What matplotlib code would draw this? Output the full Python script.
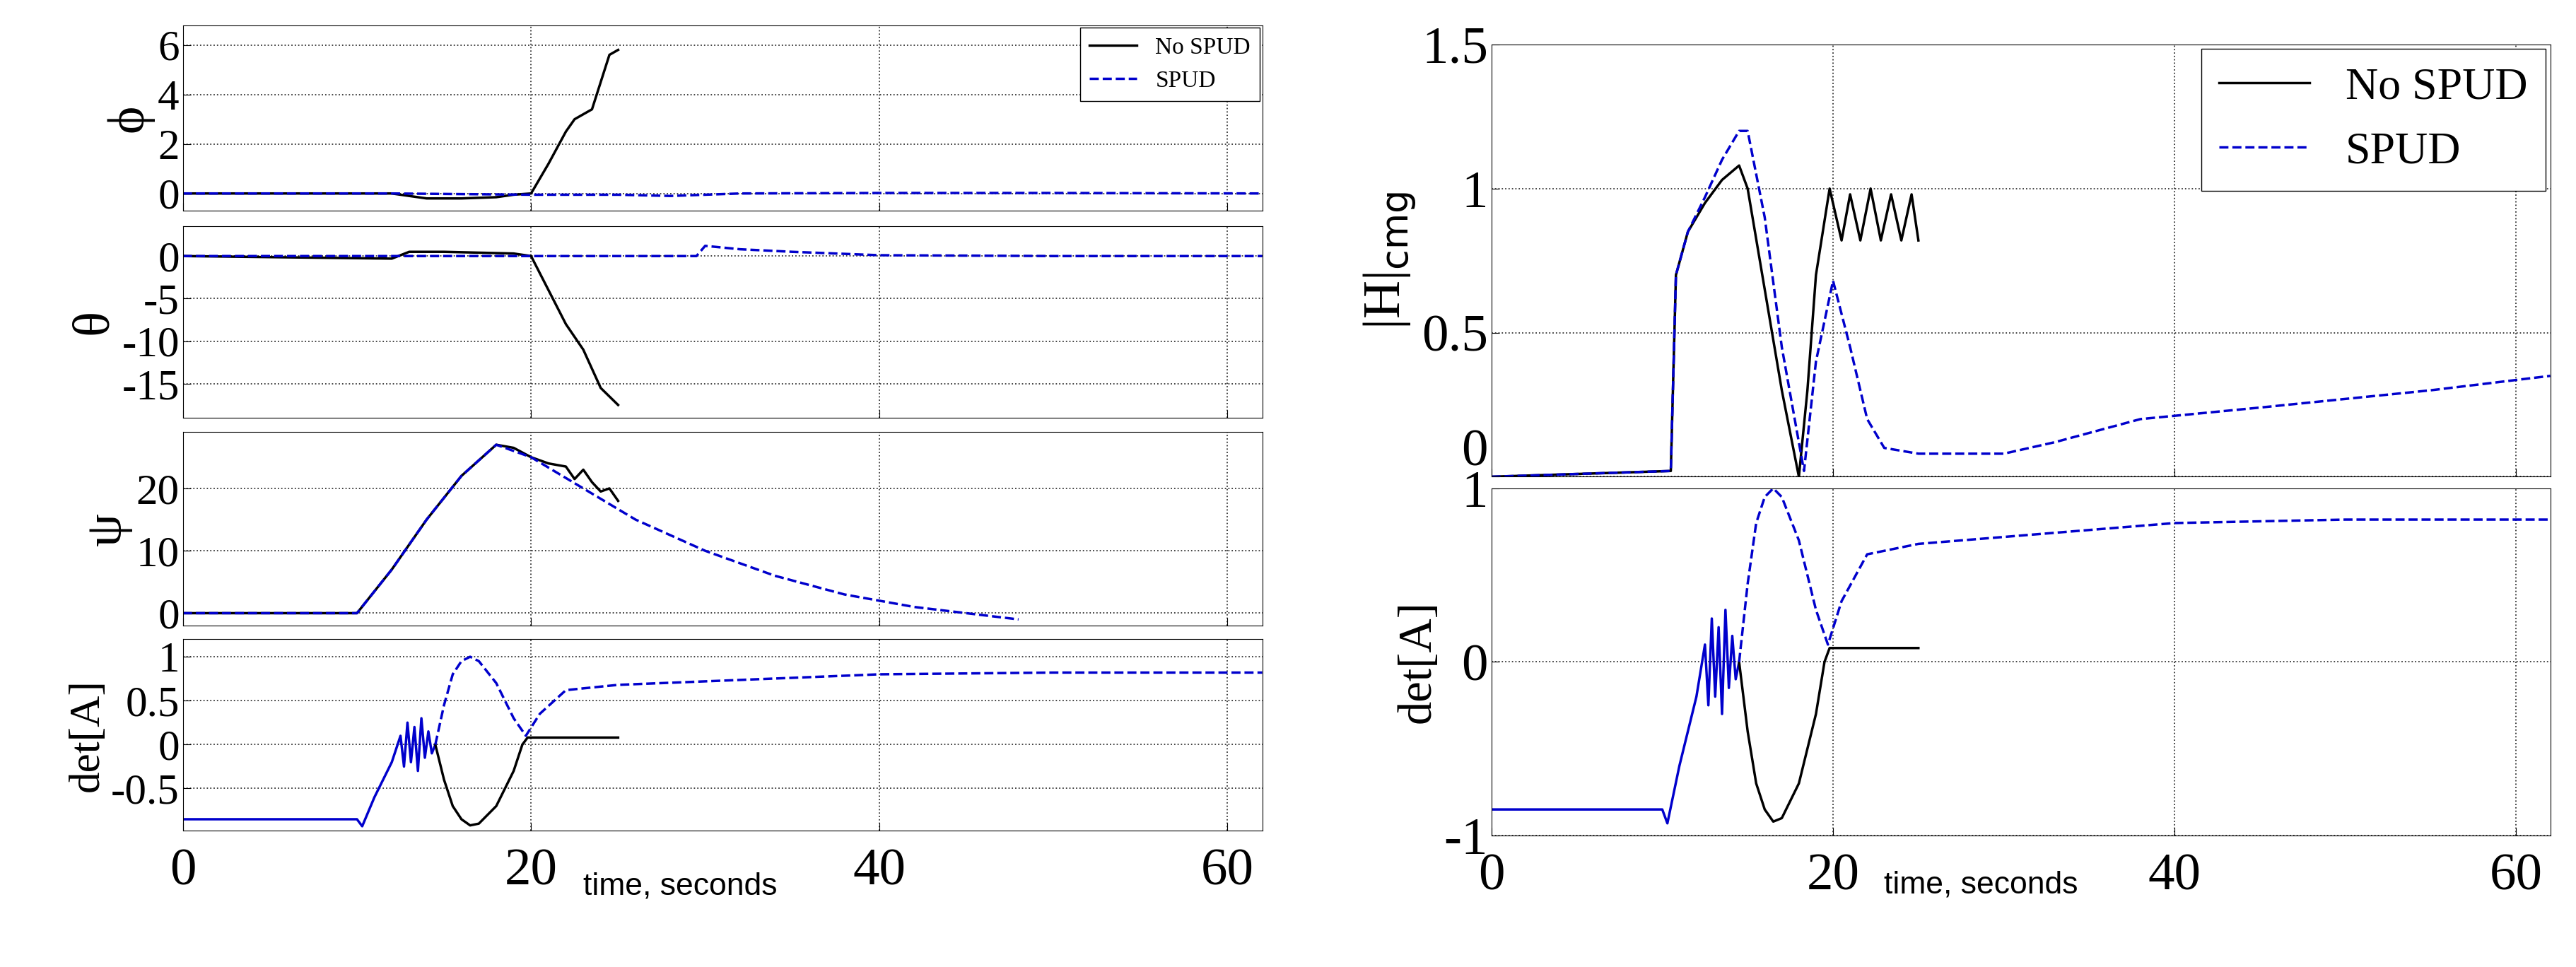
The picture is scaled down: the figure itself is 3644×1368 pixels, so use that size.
import matplotlib
matplotlib.use("Agg")
import matplotlib.pyplot as plt

plt.rcParams['font.family'] = 'Liberation Serif'
plt.rcParams['axes.unicode_minus'] = False

# ---- data ----
t_phi_n = [0, 12, 13, 14, 16, 18, 19, 20, 21, 22, 22.5, 23, 23.5, 24, 24.5, 25]
phi_n   = [0, 0, -0.1, -0.2, -0.2, -0.15, -0.05, 0, 1.2, 2.5, 3.0, 3.2, 3.4, 4.5, 5.6, 5.8]
t_phi_s = [0, 12, 20, 25, 28, 30, 32, 40, 50, 62]
phi_s   = [0, 0, -0.05, -0.05, -0.1, -0.05, 0, 0.02, 0.02, 0.0]

t_th_n = [0, 12, 13, 15, 19, 20, 21, 22, 23, 24, 25]
th_n   = [0, -0.3, 0.5, 0.5, 0.3, 0, -4, -8, -11, -15.5, -17.5]
t_th_s = [0, 12, 20, 29.5, 30, 32, 35, 40, 50, 62]
th_s   = [0, 0, 0, 0, 1.2, 0.8, 0.5, 0.1, 0, 0]

t_psi_n = [0, 10, 12, 14, 16, 18, 19, 20, 21, 22, 22.5, 23, 23.5, 24, 24.5, 25]
psi_n   = [0, 0, 7, 15, 22, 27, 26.5, 25, 24, 23.5, 21.5, 23, 21, 19.5, 20, 18]
t_psi_s = [0, 10, 12, 14, 16, 18, 20, 23, 26, 30, 34, 38, 42, 45, 48]
psi_s   = [0, 0, 7, 15, 22, 27, 25, 20, 15, 10, 6, 3, 1, 0, -1]

t_det_c = [0, 10, 10.3, 11, 12, 12.5, 12.7, 12.9, 13.1, 13.3, 13.5, 13.7, 13.9, 14.1, 14.3, 14.5]
det_c   = [-0.85, -0.85, -0.93, -0.6, -0.2, 0.1, -0.25, 0.25, -0.2, 0.2, -0.3, 0.3, -0.15, 0.15, -0.1, 0]
t_det_n = [14.5, 15, 15.5, 16, 16.5, 17, 18, 19, 19.5, 19.8, 25]
det_n   = [0, -0.4, -0.7, -0.85, -0.92, -0.9, -0.7, -0.3, 0, 0.08, 0.08]
t_det_s = [14.5, 15, 15.5, 16, 16.5, 17, 18, 19, 19.7, 20.5, 22, 25, 30, 35, 40, 50, 62]
det_s   = [0, 0.45, 0.8, 0.95, 1.0, 0.95, 0.7, 0.3, 0.1, 0.35, 0.62, 0.68, 0.72, 0.76, 0.8, 0.82, 0.82]

t_H_n = [0, 10.5, 10.8, 11.5, 12.5, 13.5, 14.5, 15, 16, 17, 18, 18.5, 19, 19.8, 20.5, 21, 21.6, 22.2, 22.8, 23.4, 24, 24.6, 25]
H_n   = [0, 0.02, 0.7, 0.85, 0.95, 1.03, 1.08, 1.0, 0.65, 0.3, 0.0, 0.3, 0.7, 1.0, 0.82, 0.98, 0.82, 1.0, 0.82, 0.98, 0.82, 0.98, 0.82]
t_H_s = [0, 10.5, 10.8, 11.5, 12.5, 13.5, 14.5, 15, 16, 17, 18.3, 19, 20, 21, 22, 23, 25, 30, 33, 38, 45, 50, 55, 62]
H_s   = [0, 0.02, 0.7, 0.85, 0.97, 1.1, 1.2, 1.2, 0.9, 0.45, 0.02, 0.4, 0.68, 0.45, 0.2, 0.1, 0.08, 0.08, 0.12, 0.2, 0.24, 0.27, 0.3, 0.35]

fig = plt.figure(figsize=(36.44, 13.68), dpi=100)
blue = '#0000cc'
lw = 2.5

def style(ax):
    ax.set_xlim(0, 62)
    ax.grid(True, linestyle=':', color='#333333', linewidth=1.3)
    ax.tick_params(labelsize=44, direction='in', length=8)
    ax.set_xticks([0, 20, 40, 60])

lx, lw_ = 0.071, 0.419
rows = [(0.782, 0.192), (0.568, 0.198), (0.353, 0.2), (0.141, 0.198)]
axs = [fig.add_axes([lx, b, lw_, h]) for b, h in rows]

a = axs[0]
a.plot(t_phi_n, phi_n, 'k-', lw=lw, label='No SPUD')
a.plot(t_phi_s, phi_s, '--', color=blue, lw=lw, label='SPUD')
a.set_ylim(-0.7, 6.8); a.set_yticks([0, 2, 4, 6]); a.set_ylabel('ϕ', fontsize=54)
a.legend(loc='upper right', fontsize=24, framealpha=1, edgecolor='k', fancybox=False,
         borderaxespad=0.1)

a = axs[1]
a.plot(t_th_n, th_n, 'k-', lw=lw); a.plot(t_th_s, th_s, '--', color=blue, lw=lw)
a.set_ylim(-19, 3.5); a.set_yticks([-15, -10, -5, 0]); a.set_ylabel('θ', fontsize=54)

a = axs[2]
a.plot(t_psi_n, psi_n, 'k-', lw=lw); a.plot(t_psi_s, psi_s, '--', color=blue, lw=lw)
a.set_ylim(-2, 29); a.set_yticks([0, 10, 20]); a.set_ylabel('ψ', fontsize=54)

a = axs[3]
a.plot(t_det_c, det_c, '-', color=blue, lw=lw)
a.plot(t_det_n, det_n, 'k-', lw=lw); a.plot(t_det_s, det_s, '--', color=blue, lw=lw)
a.set_ylim(-0.98, 1.2); a.set_yticks([-0.5, 0, 0.5, 1]); a.set_yticklabels(['-0.5', '0', '0.5', '1'])
a.set_ylabel('det[A]', fontsize=44)

for a in axs:
    style(a)
for a in axs[:3]:
    a.set_xticklabels([])
axs[3].tick_params(axis='x', labelsize=54, pad=18)
axs[3].text(23, -1.45, 'time, seconds', fontsize=32, family='Liberation Sans', ha='left', va='top')

rx, rw = 0.579, 0.411
ah = fig.add_axes([rx, 0.507, rw, 0.447])
ad = fig.add_axes([rx, 0.136, rw, 0.359])
ah.plot(t_H_n, H_n, 'k-', lw=lw, label='No SPUD')
ah.plot(t_H_s, H_s, '--', color=blue, lw=lw, label='SPUD')
ah.set_ylim(0, 1.5); ah.set_yticks([0, 0.5, 1, 1.5]); ah.set_yticklabels(['0', '0.5', '1', '1.5'])
ah.set_ylabel(r'|H|$_{\mathrm{cmg}}$', fontsize=54)
ah.legend(loc='upper right', fontsize=46, framealpha=1, edgecolor='k', fancybox=False,
          borderaxespad=0.1)
ad.plot(t_det_c, det_c, '-', color=blue, lw=lw)
ad.plot(t_det_n, det_n, 'k-', lw=lw); ad.plot(t_det_s, det_s, '--', color=blue, lw=lw)
ad.set_ylim(-1, 1); ad.set_yticks([-1, 0, 1]); ad.set_ylabel('det[A]', fontsize=48)
for a in (ah, ad):
    style(a)
    a.tick_params(labelsize=54)
ah.tick_params(axis='y', labelsize=54)
for lab in ah.get_yticklabels():
    if lab.get_text() == '0':
        lab.set_va('bottom')
ah.set_xticklabels([])
ad.tick_params(axis='x', pad=18)
ad.text(23, -1.2, 'time, seconds', fontsize=32, family='Liberation Sans', ha='left', va='top')

fig.savefig('out.png', dpi=100)
